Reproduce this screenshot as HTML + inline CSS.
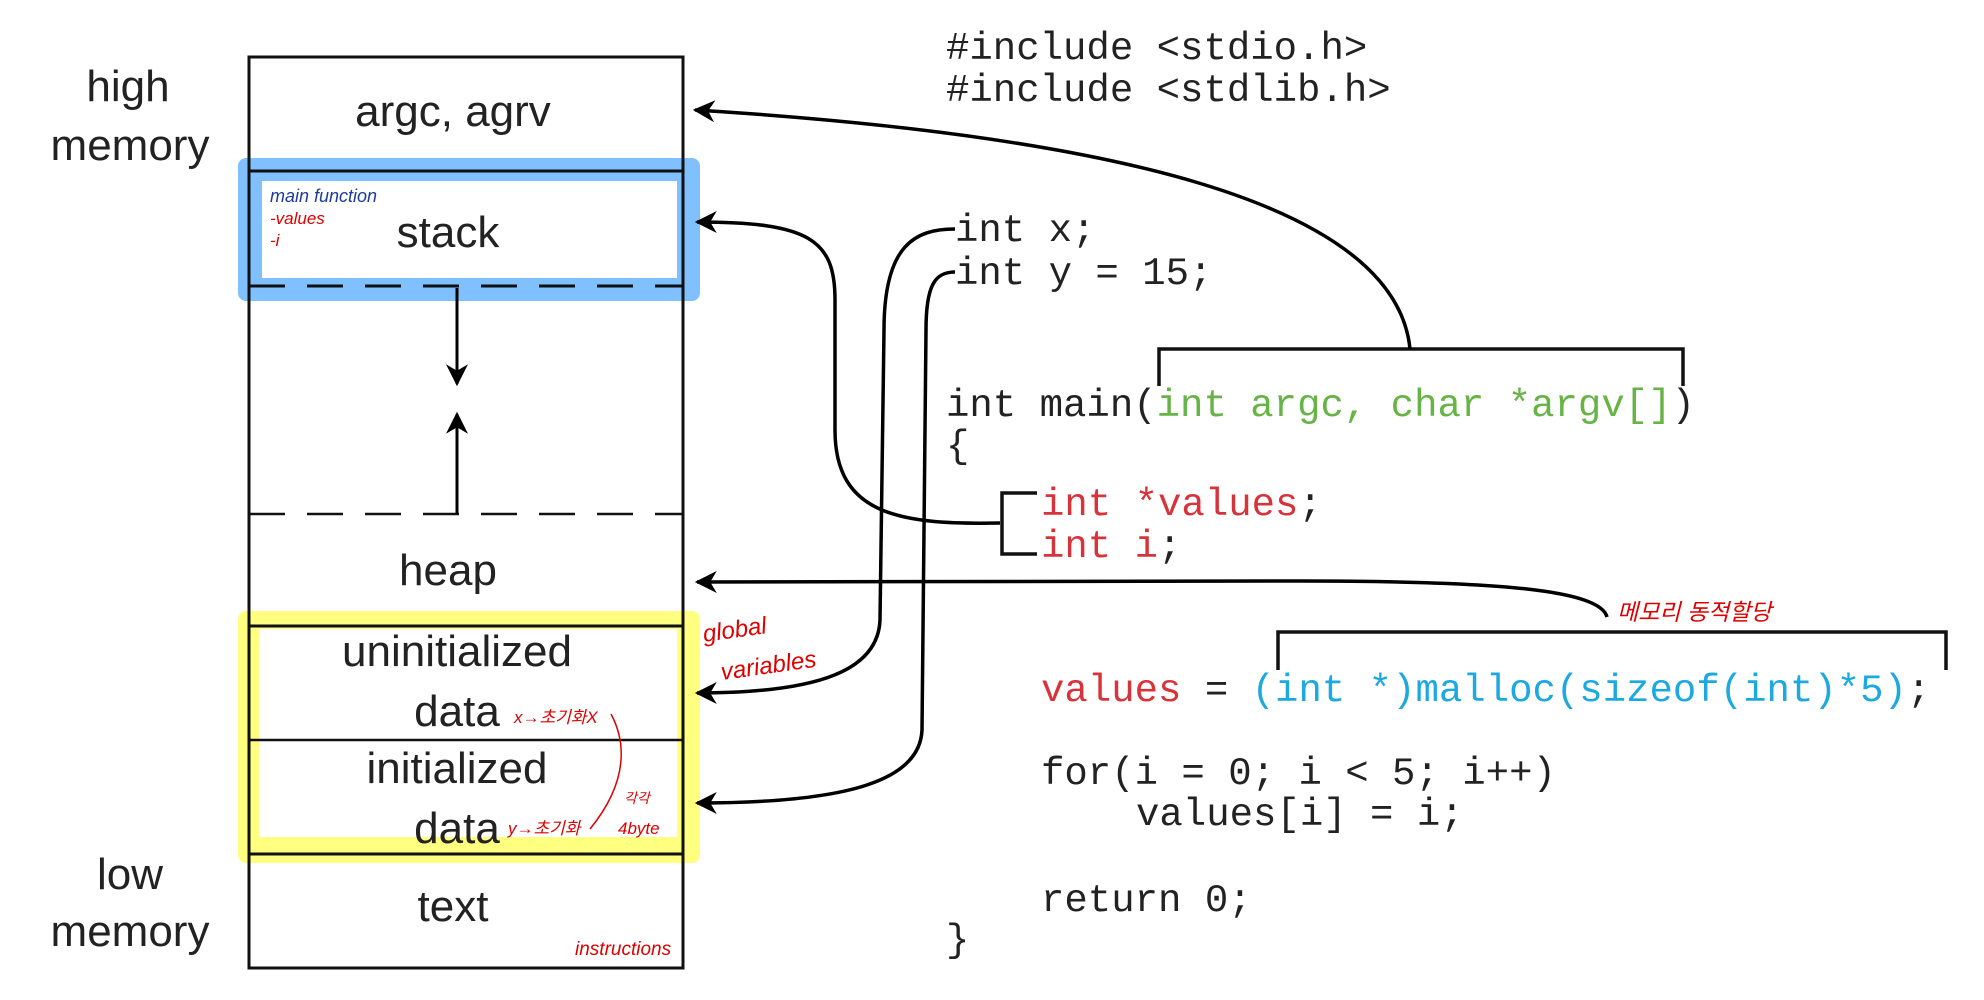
<!DOCTYPE html>
<html><head><meta charset="utf-8"><style>
html,body{margin:0;padding:0;background:#fff;}
svg{display:block;}
.l{font-family:"Liberation Sans",sans-serif;font-size:44px;fill:#222;text-anchor:middle;}
.c{font-family:"Liberation Mono",monospace;font-size:39px;fill:#222;}
.h{font-family:"Liberation Sans","Noto Sans CJK KR",sans-serif;font-style:italic;}
</style></head><body>
<svg width="1984" height="1000" viewBox="0 0 1984 1000" xmlns="http://www.w3.org/2000/svg">
<defs><marker id="a" viewBox="0 0 10 10" refX="9" refY="5" markerWidth="7" markerHeight="7" orient="auto-start-reverse" markerUnits="userSpaceOnUse"><path d="M0,0 L10,5 L0,10 z" fill="#000"/></marker>
<marker id="b" viewBox="0 0 10 10" refX="9" refY="5" markerWidth="26" markerHeight="22" orient="auto" markerUnits="userSpaceOnUse"><path d="M0,0 L10,5 L0,10 L3,5 z" fill="#000"/></marker></defs>
<!-- highlights -->
<rect x="238" y="158" width="462" height="143" rx="8" fill="#80c0ff"/>
<rect x="262" y="181" width="415" height="97" fill="#fff"/>
<rect x="238" y="611" width="462" height="252" rx="8" fill="#ffff80"/>
<rect x="259" y="629" width="418" height="208" fill="#fff"/>
<!-- memory box -->
<rect x="249" y="57" width="434" height="911" fill="none" stroke="#111" stroke-width="3"/>
<line x1="249" y1="171" x2="683" y2="171" stroke="#111" stroke-width="3"/>
<line x1="249" y1="286" x2="683" y2="286" stroke="#111" stroke-width="3" stroke-dasharray="36,22"/>
<line x1="249" y1="514" x2="683" y2="514" stroke="#111" stroke-width="2.5" stroke-dasharray="36,22"/>
<line x1="249" y1="626" x2="683" y2="626" stroke="#111" stroke-width="3"/>
<line x1="249" y1="740" x2="683" y2="740" stroke="#111" stroke-width="2.5"/>
<line x1="249" y1="854" x2="683" y2="854" stroke="#111" stroke-width="3"/>
<line x1="457" y1="288" x2="457" y2="384" stroke="#000" stroke-width="3" marker-end="url(#b)"/>
<line x1="457" y1="514" x2="457" y2="414" stroke="#000" stroke-width="3" marker-end="url(#b)"/>
<text class="l" x="128" y="101">high</text>
<text class="l" x="130" y="160">memory</text>
<text class="l" x="130" y="889">low</text>
<text class="l" x="130" y="946">memory</text>
<text class="l" x="453" y="126">argc, agrv</text>
<text class="l" x="448" y="247">stack</text>
<text class="l" x="448" y="585">heap</text>
<text class="l" x="457" y="666">uninitialized</text>
<text class="l" x="457" y="726">data</text>
<text class="l" x="457" y="783">initialized</text>
<text class="l" x="457" y="843">data</text>
<text class="l" x="453" y="921">text</text>
<!-- handwriting -->
<text class="h" x="270" y="202" font-size="18" fill="#1d3c9a">main function</text>
<text class="h" x="270" y="224" font-size="17" fill="#d00">-values</text>
<text class="h" x="270" y="246" font-size="17" fill="#d00">-i</text>
<text class="h" x="704" y="642" font-size="24" fill="#d00" transform="rotate(-8 704 642)">global</text>
<text class="h" x="722" y="680" font-size="24" fill="#d00" transform="rotate(-8 722 680)">variables</text>
<text class="h" x="514" y="723" font-size="17" fill="#d00">x→초기화X</text>
<text class="h" x="508" y="834" font-size="17" fill="#d00">y→초기화</text>
<text class="h" x="624" y="803" font-size="14" fill="#d00">각각</text>
<text class="h" x="618" y="834" font-size="17" fill="#d00">4byte</text>
<text class="h" x="575" y="955" font-size="19" fill="#d00">instructions</text>
<path d="M611 714 C625 740 630 780 590 829" fill="none" stroke="#d00" stroke-width="1.5"/>
<text class="h" x="1617" y="620" font-size="23" fill="#d00">메모리 동적할당</text>
<!-- code -->
<text class="c" x="946" y="59">#include &lt;stdio.h&gt;</text>
<text class="c" x="946" y="101">#include &lt;stdlib.h&gt;</text>
<text class="c" x="955" y="241">int x;</text>
<text class="c" x="955" y="284">int y = 15;</text>
<text class="c" x="946" y="416">int main(<tspan fill="#66b446">int argc, char *argv[]</tspan>)</text>
<text class="c" x="946" y="457">{</text>
<text class="c" x="1041" y="515"><tspan fill="#d7333a">int *values</tspan>;</text>
<text class="c" x="1041" y="557"><tspan fill="#d7333a">int i</tspan>;</text>
<text class="c" x="1041" y="701"><tspan fill="#d7333a">values</tspan> = <tspan fill="#1ca9e0">(int *)malloc(sizeof(int)*5)</tspan>;</text>
<text class="c" x="1041" y="784">for(i = 0; i &lt; 5; i++)</text>
<text class="c" x="1136" y="825">values[i] = i;</text>
<text class="c" x="1041" y="911">return 0;</text>
<text class="c" x="946" y="951">}</text>
<!-- brackets -->
<path d="M1159 386 L1159 349 L1683 349 L1683 386" fill="none" stroke="#111" stroke-width="3.5"/>
<path d="M1037 493 L1002 493 L1002 554 L1037 554" fill="none" stroke="#111" stroke-width="3.5"/>
<path d="M1278 670 L1278 632 L1946 632 L1946 670" fill="none" stroke="#111" stroke-width="3.5"/>
<!-- connectors -->
<g fill="none" stroke="#000" stroke-width="3.5">
<path d="M1410 349 C1395 200 1100 135 695 110" marker-end="url(#b)"/>
<path d="M1000 523 C900 525 835 515 835 430 L835 300 C835 240 810 222 697 222" marker-end="url(#b)"/>
<path d="M1607 617 C1600 590 1500 581 1300 581 L697 582" marker-end="url(#b)"/>
<path d="M955 229 C915 229 884 245 884 330 L880 620 C878 670 820 693 697 693" marker-end="url(#b)"/>
<path d="M955 272 C935 272 926 285 926 330 L922 730 C920 780 850 803 697 803" marker-end="url(#b)"/>
</g>
</svg>
</body></html>
